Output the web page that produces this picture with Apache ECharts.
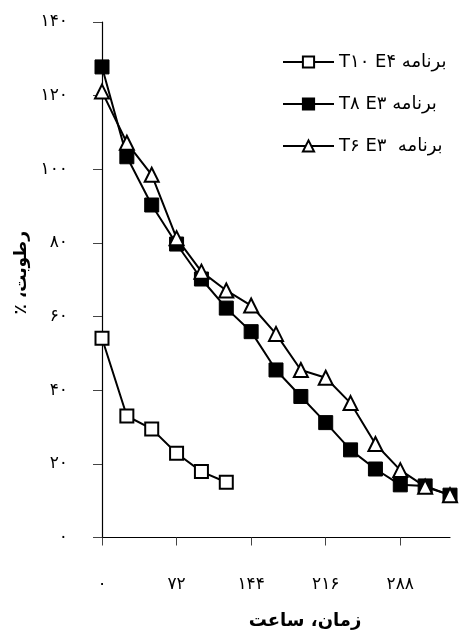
<!DOCTYPE html>
<html>
<head>
<meta charset="utf-8">
<script src="https://cdn.jsdelivr.net/npm/echarts@6/dist/echarts.min.js"></script>
<style>
html,body{margin:0;padding:0;background:#fff;}
#chart{width:464px;height:640px;}
</style>
</head>
<body>
<div id="chart"></div>
<script>
// hours of drying
var hours = [0, 24, 48, 72, 96, 120, 144, 168, 192, 216, 240, 264, 288, 312, 336];
// moisture %
var t10e4 = [54.1, 33.0, 29.5, 22.9, 17.9, 15.0];
var t8e3 = [127.8, 103.4, 90.3, 79.7, 70.2, 62.3, 55.9, 45.5, 38.3, 31.2, 23.8, 18.6, 14.3, 14.0, 11.5];
var t6e3 = [121.1, 107.2, 98.5, 81.3, 72.2, 67.1, 63.0, 55.3, 45.5, 43.4, 36.5, 25.4, 18.3, 13.8, 11.5];
var names = ['T۱۰ E۴ برنامه', 'T۸ E۳ برنامه', 'T۶ E۳  برنامه'];
var xTicks = [0, 72, 144, 216, 288];

var faDigits = '۰۱۲۳۴۵۶۷۸۹';
function toFa(v){
  return String(v).replace(/[0-9]/g, function(d){ return faDigits[+d]; });
}
function pairs(vals){
  return vals.map(function(v, i){ return [hours[i], v]; });
}

var font = 'DejaVu Sans';
var chart = echarts.init(document.getElementById('chart'));
var option = {
  animation: false,
  backgroundColor: '#fff',
  textStyle: { fontFamily: font },
  grid: { left: 102, right: 14, top: 22, bottom: 102.5, containLabel: false },
  legend: {
    orient: 'vertical',
    left: 277,
    top: 48,
    itemWidth: 51,
    itemHeight: 14,
    itemGap: 24,
    data: names,
    textStyle: { fontFamily: font, fontSize: 18, color: '#000' }
  },
  xAxis: {
    type: 'value',
    min: 0,
    max: 336,
    interval: 72,
    name: 'زمان، ساعت',
    nameLocation: 'middle',
    nameGap: 75,
    nameTextStyle: { fontFamily: font, fontSize: 18, fontWeight: 'bold', color: '#000', padding: [0, 0, 0, 58] },
    splitLine: { show: false },
    axisLine: { lineStyle: { color: '#000', width: 1.2 } },
    axisTick: { length: 8, lineStyle: { color: '#444' }, customValues: xTicks },
    axisLabel: {
      margin: 39,
      fontFamily: font, fontSize: 17, color: '#000',
      customValues: xTicks,
      formatter: function(v){ return toFa(v); }
    }
  },
  yAxis: {
    type: 'value',
    min: 0,
    max: 140,
    interval: 20,
    // RTL embedding so the percent sign sits at the start, as in the picture
    name: '\u202Bرطوبت، ٪\u202C',
    nameLocation: 'middle',
    nameGap: 68,
    nameTextStyle: { fontFamily: font, fontSize: 17, fontWeight: 'bold', color: '#000', padding: [0, 0, 0, 14] },
    splitLine: { show: false },
    axisLine: { show: true, lineStyle: { color: '#000', width: 1.2 } },
    axisTick: { show: true, length: 9, lineStyle: { color: '#444' } },
    axisLabel: {
      margin: 34,
      fontFamily: font, fontSize: 17, color: '#000',
      formatter: function(v){ return toFa(v); }
    }
  },
  series: [
    {
      name: names[0], type: 'line', data: pairs(t10e4),
      symbol: 'rect', symbolSize: 13,
      itemStyle: { color: '#fff', borderColor: '#000', borderWidth: 2 },
      lineStyle: { color: '#000', width: 2 }
    },
    {
      name: names[1], type: 'line', data: pairs(t8e3),
      symbol: 'rect', symbolSize: 14,
      itemStyle: { color: '#000', borderColor: '#000', borderWidth: 1 },
      lineStyle: { color: '#000', width: 2 }
    },
    {
      name: names[2], type: 'line', data: pairs(t6e3),
      symbol: 'triangle', symbolSize: 14,
      itemStyle: { color: '#fff', borderColor: '#000', borderWidth: 2 },
      lineStyle: { color: '#000', width: 2 }
    }
  ]
};
chart.setOption(option);
</script>
</body>
</html>
